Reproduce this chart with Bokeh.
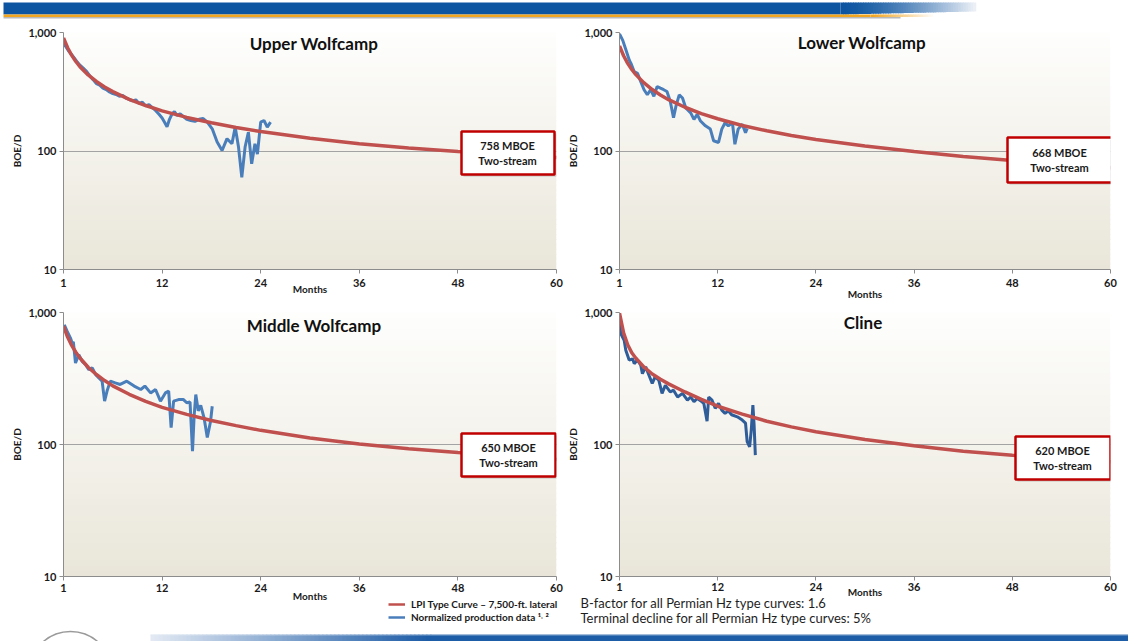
import numpy as np
from bokeh.plotting import figure
from bokeh.models import (Range1d, FixedTicker, NumeralTickFormatter, Label,
                          BoxAnnotation, Legend, LegendItem)
from bokeh.layouts import column, row
from bokeh.embed import file_html
from bokeh.resources import INLINE

FONT = "Lato"
RED = "#c0504d"

# ---------------- data ----------------
titles = ["Upper Wolfcamp", "Lower Wolfcamp", "Middle Wolfcamp", "Cline"]
eur_labels = ["758 MBOE", "668 MBOE", "650 MBOE", "620 MBOE"]
x_ticks = [0, 12, 24, 36, 48, 60]
x_tick_labels = ["1", "12", "24", "36", "48", "60"]
y_ticks = [10, 100, 1000]

curve_months = [0, 0.5, 1, 1.5, 2, 3, 4, 5, 6, 8, 10, 12, 15, 18, 21, 24, 30, 36, 42, 48, 54, 60]
upper_curve = [900, 743, 641, 569, 515, 438, 386, 347, 317, 273, 242, 218, 192, 173, 158, 146, 128, 115, 106, 99, 93, 88]
lower_curve = [770, 636, 549, 487, 441, 375, 330, 297, 271, 234, 207, 187, 164, 148, 135, 125, 110, 99, 90, 83, 77, 72]
middle_curve = [790, 652, 563, 500, 452, 385, 339, 305, 278, 240, 212, 191, 169, 152, 139, 128, 112, 101, 93, 87, 82, 77]
cline_curve = [990, 700, 570, 495, 450, 385, 342, 312, 288, 250, 220, 195, 170, 150, 136, 125, 109, 98, 89, 83, 78, 74]

upper_months = [0.0, 0.3, 0.6, 1.0, 1.3, 1.7, 2.0, 2.4, 2.8, 3.2, 3.6, 4.0, 4.4, 4.8, 5.2, 5.6, 6.0, 6.4,
                6.8, 7.2, 7.6, 8.0, 8.4, 8.8, 9.2, 9.6, 10.0, 10.4, 10.8, 11.2, 11.6, 12.0, 12.3, 12.6,
                12.9, 13.2, 13.5, 13.8, 14.2, 14.6, 15.0, 15.5, 16.0, 16.5, 17.0, 17.5, 18.1, 18.7, 19.3,
                19.9, 20.5, 20.9, 21.3, 21.7, 22.1, 22.5, 22.9, 23.3, 23.6, 24.0, 24.4, 24.8, 25.2]
upper_prod = [800, 760, 700, 650, 610, 560, 530, 500, 470, 430, 400, 370, 360, 340, 330, 315, 305, 300,
              290, 295, 280, 272, 265, 270, 252, 258, 240, 246, 232, 220, 205, 190, 175, 160,
              185, 205, 215, 200, 206, 195, 185, 181, 178, 185, 188, 175, 154, 119, 101,
              127, 115, 159, 108, 60, 108, 144, 78, 115, 94, 175, 181, 159, 175]

lower_months = [0, 0.4, 0.8, 1.2, 1.4, 1.8, 2.2, 2.6, 3.0, 3.4, 3.8, 4.2, 4.6, 5.0, 5.4, 5.8, 6.2, 6.6,
                6.9, 7.3, 7.7, 8.1, 8.7, 9.1, 9.5, 9.9, 10.5, 11.1, 11.5, 12.1, 12.5, 12.9, 13.3, 13.8,
                14.1, 14.5, 15.0, 15.4, 15.6]
lower_prod = [975, 858, 708, 584, 549, 467, 453, 385, 329, 298, 329, 289, 350, 339, 329, 318, 263, 191,
              239, 298, 280, 231, 210, 185, 204, 179, 163, 153, 122, 118, 153, 173, 163, 173,
              114, 153, 168, 143, 155]

middle_months = [0.1, 0.45, 0.85, 1.05, 1.2, 1.46, 1.86, 2.27, 2.7, 3.08, 3.5, 3.9, 4.3, 4.7, 5.0, 5.3,
                 5.7, 6.3, 6.9, 7.7, 8.6, 9.4, 9.9, 10.6, 11.2, 11.8, 12.4, 12.8, 13.1, 13.4, 14.0,
                 14.6, 15.0, 15.4, 15.7, 15.9, 16.1, 16.4, 16.7, 17.1, 17.5, 17.9, 18.1]
middle_prod = [807, 719, 640, 587, 600, 414, 479, 427, 403, 369, 380, 339, 319, 302, 213, 254,
               302, 293, 285, 302, 277, 261, 277, 246, 261, 213, 246, 254, 134, 213, 219,
               219, 207, 210, 89, 165, 239, 180, 198, 160, 113, 150, 195]

cline_months = [0, 0.17, 0.57, 0.77, 1.18, 1.6, 1.8, 2.2, 2.6, 2.8, 3.2, 3.6, 4.0, 4.35, 4.8, 5.2, 5.6,
                6.2, 6.6, 7.1, 7.7, 8.3, 8.7, 9.1, 9.5, 9.9, 10.3, 10.7, 10.9, 11.3, 11.7, 12.1, 12.5,
                12.9, 13.3, 13.7, 14.4, 15.0, 15.4, 15.6, 15.9, 16.1, 16.3, 16.45, 16.6]
cline_prod = [822, 690, 615, 517, 436, 446, 410, 436, 398, 344, 387, 335, 290, 325, 307, 244, 281,
              250, 258, 229, 244, 217, 229, 211, 223, 215, 205, 150, 229, 217, 188, 205, 182,
              172, 180, 168, 162, 153, 145, 105, 96, 128, 199, 140, 83]

legend_labels = ["LPI Type Curve \u2013 7,500-ft. lateral", "Normalized production data \u00b9\u02d2 \u00b2"]
notes = ["B-factor for all Permian Hz type curves: 1.6",
         "Terminal decline for all Permian Hz type curves: 5%"]

BLUE = "#4a7ebb"
BLUE_DARK = "#2f5d99"


def hexcol(rgb):
    return "#%02x%02x%02x" % tuple(int(round(c)) for c in rgb)


def make_panel(title, eur, cm, cv, pm, pv, blue, width, height, bl, br, bt, bb,
               lab_standoff, months_standoff, title_dx, title_y, box, text_x, text_ys):
    p = figure(width=width, height=height, x_range=Range1d(0, 60), y_range=Range1d(10, 1000),
               y_axis_type="log", output_backend="svg", toolbar_location=None,
               min_border_left=bl, min_border_right=br, min_border_top=bt, min_border_bottom=bb)
    p.outline_line_color = None
    p.background_fill_color = "white"
    p.border_fill_color = "white"

    # vertical gradient of the plot area (decoration)
    n = 48
    edges = np.logspace(1, 3, n + 1)
    frac = (np.arange(n) + 0.5) / n
    b_rgb = np.array([233, 230, 217])
    t_rgb = np.array([254, 254, 253])
    cols = [hexcol(b_rgb + (t_rgb - b_rgb) * f) for f in frac]
    g = p.quad(left=0, right=60, bottom=edges[:-1], top=edges[1:] * 1.02, fill_color=cols, line_color=None)
    g.level = "image"

    # axes
    p.xaxis.ticker = FixedTicker(ticks=x_ticks)
    p.xaxis.major_label_overrides = {t: l for t, l in zip(x_ticks, x_tick_labels)}
    p.yaxis.ticker = FixedTicker(ticks=y_ticks)
    p.yaxis.formatter = NumeralTickFormatter(format="0,0")
    for ax in (p.xaxis[0], p.yaxis[0]):
        ax.axis_line_color = "#8c8c8c"
        ax.major_tick_line_color = "#8c8c8c"
        ax.major_tick_out = 4
        ax.major_tick_in = 0
        ax.minor_tick_line_color = None
        ax.major_label_text_font = FONT
        ax.major_label_text_font_size = "11px"
        ax.major_label_text_font_style = "bold"
        ax.major_label_text_color = "#1a1a1a"
        ax.axis_label_text_font = FONT
        ax.axis_label_text_font_size = "10px"
        ax.axis_label_text_font_style = "bold"
        ax.axis_label_text_color = "#1a1a1a"
    p.xaxis.major_label_standoff = lab_standoff
    p.xaxis.axis_label = "Months"
    p.xaxis.axis_label_standoff = months_standoff
    p.yaxis.major_label_standoff = 3
    p.yaxis.axis_label = "BOE/D"
    p.yaxis.axis_label_standoff = 2
    p.xgrid.visible = False
    p.ygrid.ticker = FixedTicker(ticks=y_ticks)
    p.ygrid.grid_line_color = "#a3a3a3"
    p.ygrid.grid_line_width = 1

    p.line(pm, pv, line_color=blue, line_width=3)
    p.line(cm, cv, line_color=RED, line_width=3.5)

    fw = width - bl - br
    p.add_layout(Label(x=fw / 2 + title_dx, y=title_y, x_units="screen", y_units="screen", text=title,
                       text_align="center", text_baseline="middle", text_font=FONT,
                       text_font_size="17px", text_font_style="bold", text_color="#111111"))
    l, r, t, b = box
    p.add_layout(BoxAnnotation(left=l + 2, right=r + 2, top=t - 2, bottom=b - 2,
                               left_units="screen", right_units="screen", top_units="screen",
                               bottom_units="screen", fill_color="#8a8a8a", fill_alpha=0.45,
                               line_color=None, level="annotation"))
    p.add_layout(BoxAnnotation(left=l, right=r, top=t, bottom=b,
                               left_units="screen", right_units="screen", top_units="screen",
                               bottom_units="screen", fill_color="white", fill_alpha=1.0,
                               line_color="#c00000", line_width=2.5, line_alpha=1.0, level="annotation"))
    for txt, ty in zip([eur, "Two-stream"], text_ys):
        p.add_layout(Label(x=text_x, y=ty, x_units="screen", y_units="screen", text=txt,
                           text_align="center", text_baseline="middle", text_font=FONT,
                           text_font_size="11px", text_font_style="bold", text_color="#1a1a1a"))
    return p


ul = make_panel(titles[0], eur_labels[0], curve_months, upper_curve, upper_months, upper_prod, BLUE,
                564, 283, 63, 8, 10, 36, 5, -7, 4, 226, (398, 491, 138, 95), 444, (124, 109))
ur = make_panel(titles[1], eur_labels[1], curve_months, lower_curve, lower_months, lower_prod, BLUE,
                564, 283, 53, 18, 10, 33, 5, -2, -4, 227, (388, 493, 132, 87), 440, (117, 102))
ll = make_panel(titles[2], eur_labels[2], curve_months, middle_curve, middle_months, middle_prod, BLUE,
                564, 299, 63, 8, 6, 28, 3, -5, 4, 251, (398, 492, 143, 100), 445, (129, 114))
lr = make_panel(titles[3], eur_labels[3], curve_months, cline_curve, cline_months, cline_prod, BLUE_DARK,
                564, 299, 53, 18, 7, 27, 2, -8, -3, 254, (396, 491, 140, 97), 443, (126, 111))

# ---------------- notes strip (legend + footnotes), transparent, overlapping 10px ----------------
nt = figure(width=1128, height=32, x_range=Range1d(0, 1128), y_range=Range1d(32, 0),
            output_backend="svg", toolbar_location=None, min_border=0,
            x_axis_location=None, y_axis_location=None,
            styles={"margin-top": "-10px"})
nt.grid.visible = False
nt.outline_line_color = None
nt.background_fill_alpha = 0
nt.border_fill_alpha = 0
# off-screen stand-ins that only give the legend its line samples
lg_red = nt.line([-20, -10], [-20, -20], line_color=RED, line_width=2.5)
lg_blue = nt.line([-20, -10], [-20, -20], line_color=BLUE, line_width=2.5)
legend = Legend(items=[LegendItem(label=legend_labels[0], renderers=[lg_red]),
                       LegendItem(label=legend_labels[1], renderers=[lg_blue])],
                location=(388, 3), border_line_color=None, background_fill_alpha=0,
                padding=0, margin=0, spacing=1, glyph_width=17, glyph_height=12, label_height=12,
                label_standoff=6, label_text_font=FONT, label_text_font_size="10px",
                label_text_font_style="bold", label_text_color="#1a1a1a")
nt.add_layout(legend)
for txt, ny in zip(notes, (8, 23)):
    nt.add_layout(Label(x=580, y=ny, text=txt, text_align="left", text_baseline="middle",
                        text_font=FONT, text_font_size="13px", text_font_style="normal",
                        text_color="#1e1e1e"))

# ---------------- top banner (decoration) ----------------
top = figure(width=1128, height=22, x_range=Range1d(0, 1128), y_range=Range1d(22, 0),
             output_backend="svg", toolbar_location=None, min_border=0,
             x_axis_location=None, y_axis_location=None)
top.grid.visible = False
top.outline_line_color = None
top.background_fill_color = "white"
top.border_fill_color = "white"
blue_rgb = np.array([13, 85, 161])
pale_rgb = np.array([236, 240, 246])
top.quad(left=3, right=840, top=2, bottom=14, fill_color=hexcol(blue_rgb), line_color=None)
fx = np.linspace(840, 975, 55)
ff = np.linspace(0, 1, 54) ** 1.5
top.quad(left=fx[:-1], right=fx[1:] + 0.8, top=2, bottom=14 - np.linspace(0, 1, 54) * 3,
         fill_color=[hexcol(blue_rgb + (pale_rgb - blue_rgb) * f) for f in ff], line_color=None)
orange_rgb = np.array([242, 165, 31])
top.quad(left=3, right=870, top=14, bottom=16.5, fill_color=hexcol(orange_rgb), line_color=None)
ox = np.linspace(870, 935, 27)
of = np.linspace(0, 1, 26)
top.quad(left=ox[:-1], right=ox[1:] + 0.8, top=14, bottom=16.5,
         fill_color=[hexcol(orange_rgb + (np.array([255, 255, 255]) - orange_rgb) * f) for f in of],
         line_color=None)
top.quad(left=3, right=900, top=16.5, bottom=18, fill_color="#8a8a8a", fill_alpha=0.6, line_color=None)

# ---------------- bottom banner (decoration) ----------------
bot = figure(width=1128, height=15, x_range=Range1d(0, 1128), y_range=Range1d(15, 0),
             output_backend="svg", toolbar_location=None, min_border=0,
             x_axis_location=None, y_axis_location=None)
bot.grid.visible = False
bot.outline_line_color = None
bot.background_fill_color = "white"
bot.border_fill_color = "white"
deep_rgb = np.array([29, 92, 166])
light_rgb = np.array([226, 233, 243])
bx = np.linspace(150, 430, 71)
bf = np.linspace(0, 1, 70)
bot.quad(left=bx[:-1], right=bx[1:] + 0.8, top=8, bottom=15,
         fill_color=[hexcol(light_rgb + (deep_rgb - light_rgb) * f) for f in bf], line_color=None)
bot.quad(left=430, right=1128, top=8, bottom=15, fill_color=hexcol(deep_rgb), line_color=None)
bot.quad(left=150, right=1128, top=8, bottom=9, fill_color="#e4ebf5", fill_alpha=0.5, line_color=None)
bot.circle(x=70, y=46.5, radius=41.5, fill_color="white", line_color="#9a9a9a", line_width=1.5)

layout = column(top, row(ul, ur), row(ll, lr), nt, bot,
                styles={"position": "absolute", "left": "0px", "top": "0px"})

open("out.html", "w").write(file_html(layout, INLINE))
